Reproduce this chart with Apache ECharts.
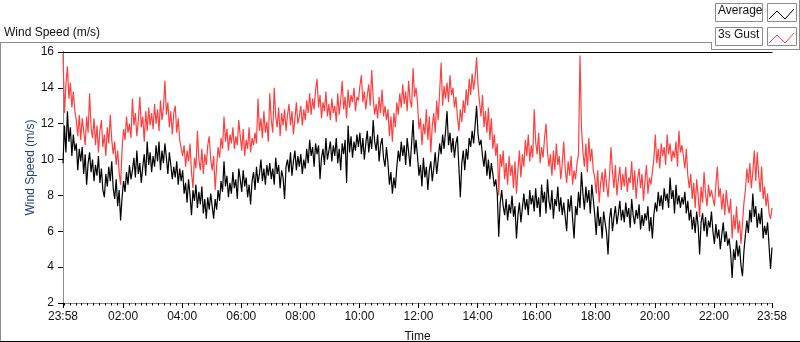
<!DOCTYPE html>
<html>
<head>
<meta charset="utf-8">
<title>Wind Speed</title>
<script src="https://cdn.jsdelivr.net/npm/echarts@6/dist/echarts.min.js"></script>
<style>
  html, body { margin: 0; padding: 0; background: #fff; }
  #main { width: 800px; height: 342px; }
</style>
</head>
<body>
<div id="main"></div>
<script>
// one sample every 3 minutes, counted from 23:58
const stepMinutes = 3;

// x axis labels and where they sit (minutes after 23:58)
const tickMinutes = [0, 122, 242, 362, 482, 602, 722, 842, 962, 1082, 1202, 1322, 1440];
const tickLabels = ['23:58', '02:00', '04:00', '06:00', '08:00', '10:00', '12:00',
  '14:00', '16:00', '18:00', '20:00', '22:00', '23:58'];

// Average wind speed (m/s), one row per hour
const avgSpeed = [
  9.8, 11.9, 10.4, 12.7, 11.0, 11.8, 10.2, 11.4, 10.5, 10.9, 9.4, 10.6, 9.9, 10.7, 9.2, 10.3, 8.6, 9.8, 10.4, 9.3,
  10.0, 8.8, 9.7, 9.1, 10.2, 8.7, 9.5, 8.3, 7.9, 9.2, 8.5, 9.6, 8.8, 9.9, 8.4, 7.8, 8.9, 7.4, 8.3, 6.6,
  7.9, 8.8, 8.2, 9.3, 8.6, 9.7, 8.9, 9.4, 10.1, 9.0, 10.5, 9.2, 9.8, 8.7, 9.6, 10.3, 9.1, 11.0, 9.7, 10.4,
  9.3, 10.2, 9.6, 10.8, 9.9, 11.0, 9.4, 10.5, 9.8, 10.9, 10.1, 9.2, 10.4, 9.7, 8.9, 9.6, 9.0, 9.9, 8.6, 9.5,
  8.8, 9.4, 8.1, 8.7, 7.6, 8.9, 8.0, 6.9, 8.3, 7.7, 8.6, 7.3, 8.2, 7.5, 8.5, 7.0, 7.8, 6.7, 7.9, 7.2,
  8.1, 7.4, 6.7, 7.8, 7.2, 8.3, 7.7, 8.8, 8.2, 9.9, 8.5, 9.1, 7.9, 8.7, 8.1, 9.3, 8.4, 8.9, 7.8, 9.5,
  8.9, 8.2, 9.4, 8.5, 9.0, 7.9, 8.6, 7.5, 8.8, 9.3, 8.3, 9.6, 8.7, 9.2, 10.0, 8.8, 9.5, 8.6, 9.7, 9.1,
  9.8, 8.9, 9.5, 8.6, 10.1, 9.2, 9.7, 8.4, 9.4, 9.0, 7.8, 9.6, 10.0, 9.3, 10.4, 9.1, 9.9, 10.5, 9.4, 10.2,
  9.6, 10.3, 9.2, 10.0, 9.5, 10.6, 9.8, 11.1, 10.2, 10.7, 9.6, 10.9, 10.3, 10.8, 8.9, 10.1, 10.6, 9.7, 11.2, 10.0,
  10.5, 11.0, 9.9, 10.8, 10.2, 11.2, 9.8, 10.6, 9.4, 10.9, 10.3, 11.1, 8.7, 11.9, 10.4, 11.3, 10.1, 11.0, 10.5, 11.4,
  10.7, 11.5, 10.3, 11.2, 10.0, 10.9, 11.6, 10.4, 11.3, 10.6, 12.2, 11.0, 10.5, 11.4, 9.9, 10.8, 11.2, 10.1, 9.6, 10.7,
  9.8, 8.6, 9.3, 8.1, 9.0, 8.4, 9.6, 10.5, 9.9, 11.0, 10.2, 10.8, 9.7, 11.2, 10.4, 9.6, 10.9, 12.2, 10.3, 11.1,
  10.2, 9.1, 9.7, 8.5, 10.1, 9.0, 9.6, 8.3, 9.4, 9.9, 8.8, 9.5, 10.4, 9.2, 10.0, 10.9, 10.3, 11.4, 10.6, 11.6,
  12.7, 10.8, 11.5, 10.4, 11.2, 10.1, 10.9, 11.3, 9.6, 7.9, 9.8, 10.5, 9.4, 10.6, 10.0, 11.2, 10.7, 11.6, 10.9, 11.9,
  13.0, 11.4, 10.8, 11.1, 10.2, 9.6, 10.5, 9.1, 10.0, 8.9, 9.8, 9.2, 8.5, 8.9, 8.1, 5.7, 7.6, 8.3, 7.4, 6.9,
  7.8, 6.6, 7.5, 7.0, 8.0, 6.8, 7.4, 5.6, 6.9, 7.6, 6.5, 7.3, 8.1, 7.2, 7.8, 6.9, 8.3, 7.5, 8.0, 7.1,
  8.4, 7.3, 7.9, 6.8, 8.6, 7.6, 8.2, 7.0, 8.9, 7.7, 7.2, 8.3, 6.7, 7.8, 7.4, 8.5, 7.1, 7.9, 6.9, 7.6,
  7.5, 6.0, 7.8, 7.1, 8.0, 6.7, 5.6, 7.4, 6.9, 8.2, 7.3, 9.3, 8.1, 7.2, 8.5, 7.6, 8.3, 7.0, 8.6, 7.8,
  6.9, 5.8, 7.4, 6.3, 6.8, 5.6, 7.1, 6.5, 5.9, 4.7, 6.7, 7.3, 6.0, 6.8, 7.4, 6.4, 7.0, 7.7, 6.6, 7.2,
  6.5, 7.6, 6.8, 7.3, 6.2, 7.8, 6.9, 6.4, 7.2, 6.7, 7.5, 6.1, 6.9, 6.3, 7.0, 6.6, 7.4, 6.0, 6.8, 5.6,
  6.9, 7.6, 7.1, 8.2, 7.4, 8.0, 7.2, 8.4, 7.7, 8.1, 7.3, 9.0, 7.8, 8.3, 7.0, 8.6, 7.5, 8.0, 7.3, 7.9,
  7.5, 8.2, 7.0, 7.7, 6.6, 7.2, 6.1, 6.8, 5.9, 7.1, 6.3, 4.7, 6.5, 7.0, 6.0, 6.8, 5.7, 6.6, 6.2, 7.1,
  6.0, 5.3, 6.4, 5.6, 6.1, 5.0, 5.8, 6.5, 5.4, 6.0, 5.2, 5.6, 4.8, 3.4, 5.0, 4.4, 5.5, 4.6, 5.2, 4.1,
  3.5, 4.9, 5.8, 6.6, 5.9, 7.2, 6.5, 8.1, 6.8, 7.4, 6.2, 7.0, 6.4, 7.3, 5.6, 6.3, 5.8, 6.5, 5.2, 3.9,
  5.1
];

// 3s gust (m/s)
const gustSpeed = [
  15.9, 12.6, 14.2, 15.2, 13.4, 14.3, 12.9, 13.8, 12.7, 12.2, 11.3, 12.5, 11.1, 12.3, 11.6, 10.8, 12.4, 11.5, 13.7, 11.8,
  11.2, 12.3, 10.8, 11.9, 10.4, 11.6, 12.2, 10.7, 11.4, 10.2, 11.8, 10.9, 12.5, 11.1, 10.3, 11.0, 9.7, 10.5, 9.3, 8.6,
  10.6, 11.7, 11.1, 12.4, 11.5, 12.0, 11.2, 13.4, 11.9, 12.6, 11.3, 12.2, 13.5, 11.8, 12.4, 11.0, 12.7, 11.6, 12.9, 11.9,
  12.6, 11.7, 13.1, 12.0, 12.8, 11.6, 13.3, 12.2, 12.9, 14.4, 12.5, 13.2, 11.8, 12.7, 11.4, 12.6, 13.0, 11.5, 12.3, 11.1,
  11.0, 10.2, 10.8, 9.6, 10.5, 9.9, 10.9, 9.3, 8.4, 10.1, 9.5, 11.6, 10.0, 9.4, 10.6, 9.2, 10.3, 9.7, 10.8, 11.3,
  10.0, 9.4, 10.2, 8.3, 9.6, 10.7, 10.1, 11.2, 10.6, 12.4, 11.0, 11.7, 10.5, 11.4, 10.9, 11.8, 10.6, 11.3, 10.8, 12.2,
  11.3, 10.5, 11.7, 10.2, 11.1, 10.6, 11.8, 10.4, 11.2, 10.8, 11.5, 10.9, 13.4, 11.6, 12.3, 11.2, 12.7, 11.5, 12.1, 11.0,
  13.7, 12.2, 11.5, 14.0, 12.4, 11.8, 12.9, 11.3, 12.6, 11.9, 12.8, 11.6, 12.5, 13.1, 11.9, 12.7, 11.4, 12.3, 13.2, 12.0,
  12.4, 13.0, 11.9, 12.8, 12.2, 13.3, 12.6, 13.7, 12.5, 13.4, 12.8, 13.9, 14.5, 12.9, 13.6, 12.3, 13.2, 12.7, 13.8, 12.4,
  13.1, 12.2, 13.4, 12.6, 13.0, 12.1, 13.7, 12.5, 13.3, 14.4, 12.8, 13.5, 12.3, 13.9, 12.9, 13.6, 13.2, 14.0, 12.7, 13.5,
  13.3, 14.1, 14.7, 13.2, 13.8, 12.8, 13.6, 14.2, 13.0, 15.0, 13.4, 12.5, 13.1, 12.3, 13.5, 12.6, 13.9, 12.4, 13.0, 12.2,
  12.8, 11.3, 12.4, 11.0, 12.6, 11.8, 13.2, 12.5, 13.7, 12.9, 14.2, 13.1, 13.8, 12.7, 14.4, 13.3, 12.9, 15.1, 13.5, 14.0,
  13.2, 11.7, 12.3, 10.8, 12.0, 11.4, 12.8, 11.1, 12.4, 10.4, 11.9, 12.6, 11.5, 13.3, 12.2, 13.8, 15.4, 13.0, 14.1, 13.4,
  14.3, 13.2, 14.7, 13.6, 14.0, 12.9, 13.5, 12.4, 11.6, 12.8, 12.1, 13.3, 12.6, 13.9, 13.0, 14.5, 13.6, 14.8, 13.9, 14.6,
  15.7, 14.1, 13.2, 12.4, 13.6, 11.8, 12.7, 11.5, 12.9, 11.1, 12.3, 10.6, 11.4, 10.2, 10.9, 8.0, 10.3, 9.6, 10.5, 8.9,
  9.8, 8.6, 10.2, 9.1, 9.7, 8.4, 9.9, 8.1, 9.4, 10.5, 9.0, 10.3, 9.6, 11.1, 10.2, 11.4, 9.9, 10.8, 10.1, 12.8,
  11.0, 10.3, 11.5, 9.8, 10.7, 10.1, 11.2, 12.0, 10.4, 9.6, 10.3, 9.1, 10.5, 9.4, 10.9, 9.7, 10.2, 8.9, 9.8, 11.0,
  9.5, 8.7, 9.9, 9.1, 10.2, 8.6, 9.4, 8.9, 9.8, 10.3, 15.8, 11.8, 10.4, 9.6, 10.9, 9.3, 11.2, 9.9, 10.6, 9.4,
  9.0, 8.1, 9.4, 7.6, 8.7, 9.3, 8.2, 9.5, 8.6, 7.9, 9.1, 10.7, 9.3, 8.4, 9.7, 8.0, 8.9, 9.6, 8.3, 9.2,
  8.5, 9.6, 8.2, 9.0, 8.7, 9.9, 8.3, 9.4, 7.8, 8.9, 9.5, 8.4, 9.2, 7.7, 8.8, 9.7, 8.1, 9.0, 8.6, 9.3,
  10.0, 11.4, 9.8, 10.6, 9.5, 10.9, 10.2, 10.7, 9.7, 11.4, 10.3, 10.9, 9.9, 10.5, 10.1, 11.0, 9.6, 11.6, 10.4, 10.8,
  10.2, 9.5, 10.6, 9.1, 8.4, 9.2, 7.8, 8.7, 7.3, 8.9, 8.0, 6.8, 8.5, 7.6, 9.3, 8.1, 7.4, 8.6, 7.9, 8.3,
  8.2, 7.4, 8.6, 9.6, 7.9, 8.4, 7.2, 8.1, 6.9, 8.3, 7.5, 7.0, 7.8, 5.6, 6.9, 6.1, 7.4, 5.9, 6.6, 5.3,
  5.4, 7.6, 8.3, 9.5, 8.7, 9.8, 8.4, 9.3, 10.5, 8.8, 10.4, 9.1, 8.2, 9.6, 7.8, 8.5, 7.4, 8.1, 7.0, 6.7,
  7.3
];

const FONT = 'Liberation Sans';

// small ticks every 12 min, lined up with the 2 hour marks
let minorTicks = [];
for (let m = 2; m < 1440; m += 12) minorTicks.push(m);

const toPairs = arr => arr.map((v, i) => [i * stepMinutes, v]);

var myChart = echarts.init(document.getElementById('main'));

var option = {
  animation: false,
  backgroundColor: '#fff',
  grid: { left: 63, top: 52, right: 28, bottom: 39, outerBoundsMode: 'none' },
  xAxis: [
    {
      // main time axis: labels + long ticks
      type: 'value', position: 'bottom', min: 0, max: 1440,
      name: 'Time', nameLocation: 'middle', nameGap: 28, nameMoveOverlap: false,
      nameTextStyle: { fontFamily: FONT, fontSize: 12, color: '#111' },
      axisLine: { lineStyle: { color: '#8c8c8c', width: 1 } },
      axisTick: { customValues: tickMinutes, length: 5, lineStyle: { color: '#000' } },
      axisLabel: {
        customValues: tickMinutes, margin: 8,
        fontFamily: FONT, fontSize: 12, color: '#111',
        formatter: v => tickLabels[tickMinutes.indexOf(v)]
      },
      splitLine: { show: false }
    },
    {
      // short ticks
      type: 'value', position: 'bottom', min: 0, max: 1440,
      axisLine: { show: false },
      axisTick: { customValues: minorTicks, length: 2.5, lineStyle: { color: '#000' } },
      axisLabel: { show: false },
      splitLine: { show: false }
    },
    {
      // top frame edge
      type: 'value', position: 'top', min: 0, max: 1440,
      axisLine: { lineStyle: { color: '#000', width: 1 } },
      axisTick: { show: false }, axisLabel: { show: false }, splitLine: { show: false }
    }
  ],
  yAxis: [
    {
      type: 'value', position: 'left', min: 2, max: 16, interval: 2,
      name: 'Wind Speed (m/s)', nameLocation: 'middle', nameGap: 26, nameRotate: 90,
      nameMoveOverlap: false,
      nameTextStyle: { fontFamily: FONT, fontSize: 12, color: '#24407a', padding: [0, 0, 0, 20] },
      axisLine: { show: true, lineStyle: { color: '#000', width: 1 } },
      axisTick: { show: true, length: 5, lineStyle: { color: '#000' } },
      axisLabel: { margin: 9, fontFamily: FONT, fontSize: 12, color: '#111' },
      splitLine: { show: false }
    },
    {
      type: 'value', position: 'right', min: 2, max: 16,
      axisLine: { show: true, lineStyle: { color: '#8c8c8c', width: 1 } },
      axisTick: { show: false }, axisLabel: { show: false }, splitLine: { show: false }
    }
  ],
  series: [
    {
      name: '3s Gust', type: 'line', xAxisIndex: 0, yAxisIndex: 0,
      data: toPairs(gustSpeed), showSymbol: false, symbol: 'none',
      lineStyle: { color: '#ff4040', width: 1.2 }, itemStyle: { color: '#ff4040' }
    },
    {
      name: 'Average', type: 'line', xAxisIndex: 0, yAxisIndex: 0,
      data: toPairs(avgSpeed), showSymbol: false, symbol: 'none',
      lineStyle: { color: '#000', width: 1.2 }, itemStyle: { color: '#000' }
    }
  ],
  graphic: [
    // outer panel frame
    { type: 'line', shape: { x1: 0, y1: 42.5, x2: 711, y2: 42.5 }, style: { stroke: '#8c8c8c', lineWidth: 1 } },
    { type: 'line', shape: { x1: 0.5, y1: 42, x2: 0.5, y2: 341 }, style: { stroke: '#8c8c8c', lineWidth: 1 } },
    { type: 'line', shape: { x1: 0, y1: 341.5, x2: 800, y2: 341.5 }, style: { stroke: '#000', lineWidth: 1 } },
    { type: 'line', shape: { x1: 711.5, y1: 42, x2: 711.5, y2: 50 }, style: { stroke: '#8c8c8c', lineWidth: 1 } },
    { type: 'line', shape: { x1: 711, y1: 49.5, x2: 800, y2: 49.5 }, style: { stroke: '#8c8c8c', lineWidth: 1 } },
    { type: 'line', shape: { x1: 799.5, y1: 0, x2: 799.5, y2: 50 }, style: { stroke: '#8c8c8c', lineWidth: 1 } },
    // chart title
    { type: 'text', left: 4, top: 27, style: { text: 'Wind Speed (m/s)', font: '12px "Liberation Sans"', fill: '#111' } },
    // legend
    { type: 'rect', shape: { x: 715.5, y: 3.5, width: 47, height: 18 }, style: { fill: '#fff', stroke: '#8c8c8c', lineWidth: 1 } },
    { type: 'text', left: 718, top: 5, style: { text: 'Average', font: '12px "Liberation Sans"', fill: '#111' } },
    { type: 'rect', shape: { x: 767.5, y: 3.5, width: 29, height: 18 }, style: { fill: '#fff', stroke: '#8c8c8c', lineWidth: 1 } },
    { type: 'polyline', shape: { points: [[769, 19], [777, 11], [785, 19], [794, 9]] }, style: { stroke: '#000', lineWidth: 1, fill: null } },
    { type: 'rect', shape: { x: 715.5, y: 27.5, width: 47, height: 18 }, style: { fill: '#fff', stroke: '#8c8c8c', lineWidth: 1 } },
    { type: 'text', left: 718, top: 29, style: { text: '3s Gust', font: '12px "Liberation Sans"', fill: '#111' } },
    { type: 'rect', shape: { x: 767.5, y: 27.5, width: 29, height: 18 }, style: { fill: '#fff', stroke: '#8c8c8c', lineWidth: 1 } },
    { type: 'polyline', shape: { points: [[769, 43], [777, 35], [785, 43], [794, 33]] }, style: { stroke: '#ff4040', lineWidth: 1, fill: null } }
  ]
};

myChart.setOption(option);
</script>
</body>
</html>
